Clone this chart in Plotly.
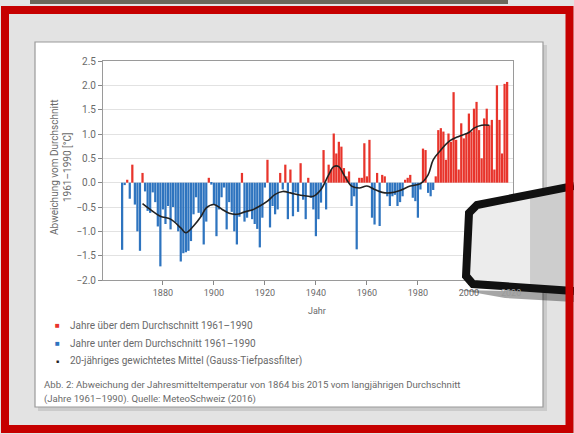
import plotly.graph_objects as go

# ---------------- data ----------------
years = list(range(1864, 2016))
anomaly = [
    -1.38, -0.05, 0.06, -0.33, 0.37, -0.45,                              # 1864-1869
    -1.0, -1.4, 0.2, -0.18, -0.58, -0.62, -0.2, -0.4, -0.9, -1.72,       # 1870s
    -0.55, -0.85, -0.48, -0.96, -0.5, -0.82, -1.0, -1.62, -1.45, -1.43,  # 1880s
    -1.4, -1.2, -0.65, -0.3, -0.62, -0.7, -1.27, -0.8, 0.1, -0.04,       # 1890s
    -0.45, -1.1, -0.55, -0.3, -0.1, -0.96, -0.4, -0.6, -1.0, -1.27,      # 1900s
    -0.7, 0.2, -0.8, -0.72, -0.58, -0.75, -0.85, -0.95, -1.33, -0.72,    # 1910s
    -0.1, 0.47, -0.92, -0.48, -0.65, -0.55, 0.2, -0.14, 0.37, -0.75,     # 1920s
    0.27, -0.69, -0.2, -0.6, 0.4, -0.35, -0.75, 0.1, -0.31, -0.55,       # 1930s
    -1.1, -0.75, -0.41, 0.67, -0.55, 0.37, 0.27, 1.01, 0.6, 0.84,        # 1940s
    0.74, 0.3, 0.13, 0.23, -0.48, -0.28, -1.37, 0.1, 0.1, 0.81,          # 1950s
    0.13, 0.88, -0.72, -0.86, 0.2, -0.89, 0.16, 0.13, -0.28, -0.48,      # 1960s
    -0.28, -0.25, -0.48, -0.4, -0.28, 0.06, 0.1, 0.16, -0.31, -0.38,     # 1970s
    -0.72, -0.14, 0.7, 0.67, -0.21, -0.28, -0.15, 0.13, 1.08, 1.12,      # 1980s
    1.05, 0.47, 1.01, 0.84, 1.86, 0.88, 0.27, 1.22, 0.91, 1.01,          # 1990s
    1.42, 1.05, 1.52, 1.66, 1.08, 0.5, 1.32, 1.52, 1.18, 1.29,           # 2000s
    0.27, 2.0, 1.29, 0.6, 2.03, 2.07,                                    # 2010-2015
]
assert len(anomaly) == len(years)

smooth_years = [1872, 1875, 1879, 1883, 1887, 1889, 1892, 1895, 1897, 1900,
                1903, 1906, 1909, 1912, 1915, 1918, 1921, 1924, 1927, 1930,
                1934, 1937, 1939, 1942, 1945, 1947, 1949, 1951, 1954, 1957,
                1960, 1963, 1966, 1969, 1973, 1977, 1981, 1984, 1986, 1989,
                1992, 1996, 2000, 2002, 2005, 2008]
smooth_vals = [-0.43, -0.55, -0.69, -0.75, -0.93, -1.03, -0.89, -0.69, -0.52, -0.45,
               -0.54, -0.63, -0.65, -0.6, -0.56, -0.48, -0.38, -0.24, -0.18, -0.21,
               -0.26, -0.28, -0.28, -0.14, 0.16, 0.33, 0.33, 0.16, -0.07, -0.11,
               -0.07, -0.14, -0.2, -0.21, -0.16, -0.07, -0.02, 0.16, 0.47, 0.67,
               0.84, 0.95, 1.03, 1.12, 1.18, 1.18]

x_ticks = [1880, 1900, 1920, 1940, 1960, 1980, 2000]
x_tick_last = "2020"
y_ticks = [-2.0, -1.5, -1.0, -0.5, 0.0, 0.5, 1.0, 1.5, 2.0, 2.5]

legend_above = "Jahre über dem Durchschnitt 1961–1990"
legend_below = "Jahre unter dem Durchschnitt 1961–1990"
legend_line = "20-jähriges gewichtetes Mittel (Gauss-Tiefpassfilter)"
caption_1 = "Abb. 2: Abweichung der Jahresmitteltemperatur von 1864 bis 2015 vom langjährigen Durchschnitt"
caption_2 = "(Jahre 1961–1990). Quelle: MeteoSchweiz (2016)"
y_title = "Abweichung vom Durchschnitt<br>1961–1990 [°C]"
x_title = "Jahr"

RED = "#e8342b"
BLUE = "#2e74bf"
TXT = "#6a6a6a"
FONT = "Roboto"

# ---------------- geometry ----------------
W, H = 574, 434
L, R, T, B = 103, 61, 61, 154
PW, PH = W - L - R, H - T - B


def px(x):
    return (x - L) / PW


def py(y):
    return (H - B - y) / PH


pos_x = [y for y, v in zip(years, anomaly) if v >= 0]
pos_v = [v for v in anomaly if v >= 0]
neg_x = [y for y, v in zip(years, anomaly) if v < 0]
neg_v = [v for v in anomaly if v < 0]

fig = go.Figure()
fig.add_trace(go.Bar(x=pos_x, y=pos_v, marker=dict(color=RED, line=dict(width=0)),
                     showlegend=False))
fig.add_trace(go.Bar(x=neg_x, y=neg_v, marker=dict(color=BLUE, line=dict(width=0)),
                     showlegend=False))
fig.add_trace(go.Scatter(x=smooth_years, y=smooth_vals, mode="lines",
                         line=dict(color="#222222", width=1.6, shape="spline"),
                         showlegend=False))

shapes = []
# white page card
shapes.append(dict(type="rect", xref="paper", yref="paper", layer="below",
                   x0=px(38), x1=px(547), y0=py(45), y1=py(411),
                   fillcolor="rgba(0,0,0,0.10)", line=dict(width=0)))
shapes.append(dict(type="rect", xref="paper", yref="paper", layer="below",
                   x0=px(35), x1=px(543), y0=py(42), y1=py(407),
                   fillcolor="white", line=dict(color="#9a9a9a", width=1.2)))
# dark strip at very top (photo background)
shapes.append(dict(type="rect", xref="paper", yref="paper", layer="below",
                   x0=px(30), x1=px(508), y0=py(0), y1=py(4),
                   fillcolor="#6b675a", line=dict(width=0)))


def pth(points, close=False):
    s = "M " + " L ".join(f"{px(a):.4f},{py(b):.4f}" for a, b in points)
    return s + (" Z" if close else "")


# black bracket shape drawn over the photo
outline = [(574, 186), (477, 205), (469, 213), (466, 276), (473, 284), (574, 291)]
shapes.append(dict(type="path", xref="paper", yref="paper", layer="above",
                   path=pth([(574, 302), (505, 298), (460, 290), (574, 292)], True),
                   fillcolor="rgba(0,0,0,0.35)", line=dict(width=0)))
shapes.append(dict(type="path", xref="paper", yref="paper", layer="above",
                   path=pth(outline, True), fillcolor="#ececec", line=dict(width=0)))
shapes.append(dict(type="path", xref="paper", yref="paper", layer="above",
                   path=pth([(530, 196), (574, 188), (574, 290), (530, 287)], True),
                   fillcolor="rgba(150,150,150,0.35)", line=dict(width=0)))
shapes.append(dict(type="path", xref="paper", yref="paper", layer="above",
                   path=pth(outline), fillcolor="rgba(0,0,0,0)",
                   line=dict(color="#111111", width=8)))
# red frame
shapes.append(dict(type="rect", xref="paper", yref="paper", layer="above",
                   x0=px(5), x1=px(569.5), y0=py(10), y1=py(429),
                   fillcolor="rgba(0,0,0,0)", line=dict(color="#c60000", width=8)))


def ann(text, x, y, size=10, color=TXT, xanchor="left", angle=0):
    return dict(text=text, x=px(x), y=py(y), xref="paper", yref="paper",
                showarrow=False, xanchor=xanchor, yanchor="middle", textangle=angle,
                font=dict(family=FONT, size=size, color=color))


annotations = [
    ann(y_title, 61, 167, size=10, xanchor="center", angle=-90),
    ann(x_title, 317, 311, size=9, xanchor="center"),
    ann(x_tick_last, 511, 293, size=9, xanchor="center", color="#9a9a9a"),
    ann(f"<span style='color:{RED}'>■</span>", 53, 325, size=8),
    ann(legend_above, 68, 325, size=10),
    ann(f"<span style='color:{BLUE}'>■</span>", 53, 343, size=8),
    ann(legend_below, 68, 343, size=10),
    ann("<span style='color:#222'>■</span>", 54, 361, size=5),
    ann(legend_line, 68, 361, size=10),
    ann(caption_1, 42, 384, size=9.6),
    ann(caption_2, 42, 399, size=9.6),
]

fig.update_layout(
    width=W, height=H,
    margin=dict(l=L, r=R, t=T, b=B, pad=0),
    paper_bgcolor="#e3e3e3",
    plot_bgcolor="white",
    barmode="relative",
    bargap=0.12,
    shapes=shapes,
    annotations=annotations,
    font=dict(family=FONT, size=9, color=TXT),
    xaxis=dict(range=[1856.5, 2017.3], tickvals=x_ticks, ticks="outside", ticklen=4,
               tickcolor="#888", showgrid=False, showline=True, mirror=True,
               linecolor="#9a9a9a", linewidth=1, zeroline=False,
               tickfont=dict(family=FONT, size=9, color=TXT)),
    yaxis=dict(range=[-2.0, 2.5], tickvals=y_ticks, tickformat=".1f", ticks="outside",
               ticklen=4, tickcolor="#888", showgrid=True, gridcolor="#e2e2e2",
               gridwidth=1, showline=True, mirror=True, linecolor="#9a9a9a",
               linewidth=1, zeroline=False,
               tickfont=dict(family=FONT, size=10, color=TXT)),
)

fig.write_html("out.html",
               config={"displayModeBar": False},
               post_script="document.body.style.margin='0';document.body.style.overflow='hidden';")
